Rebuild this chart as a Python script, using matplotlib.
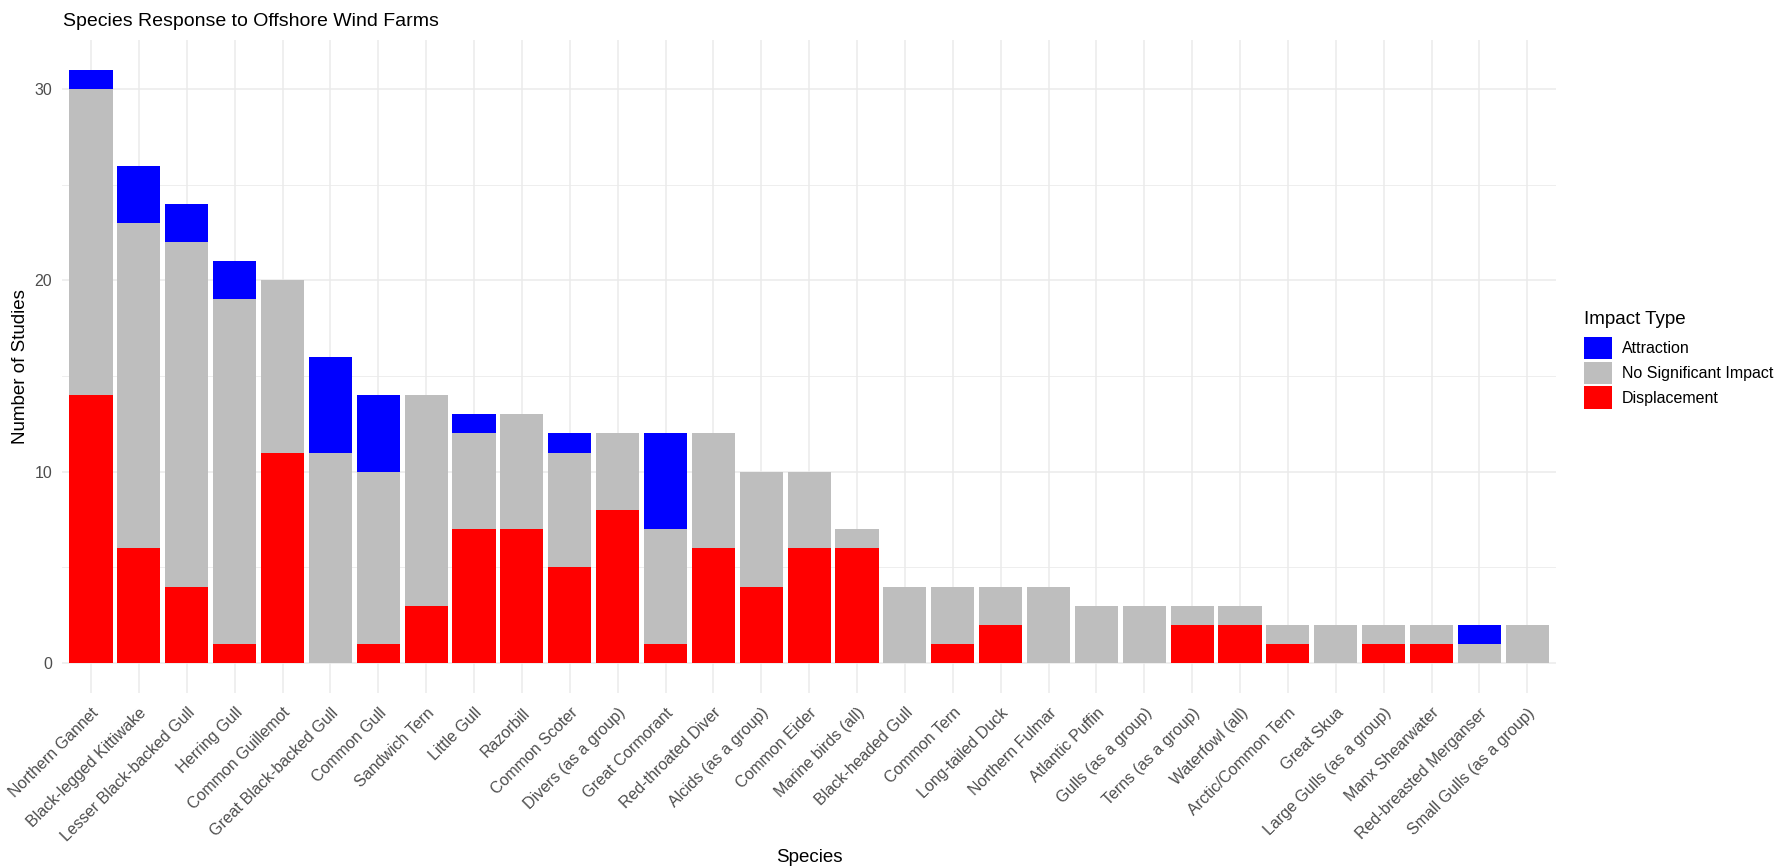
import numpy as np
import matplotlib
matplotlib.use('Agg')
import matplotlib.pyplot as plt
from matplotlib.patches import Patch
from matplotlib.ticker import MultipleLocator

# Stacked counts of studies per species and impact type

species = ['Northern Gannet', 'Black-legged Kittiwake', 'Lesser Black-backed Gull', 'Herring Gull',
           'Common Guillemot', 'Great Black-backed Gull', 'Common Gull', 'Sandwich Tern', 'Little Gull',
           'Razorbill', 'Common Scoter', 'Divers (as a group)', 'Great Cormorant', 'Red-throated Diver',
           'Alcids (as a group)', 'Common Eider', 'Marine birds (all)', 'Black-headed Gull', 'Common Tern',
           'Long-tailed Duck', 'Northern Fulmar', 'Atlantic Puffin', 'Gulls (as a group)', 'Terns (as a group)',
           'Waterfowl (all)', 'Arctic/Common Tern', 'Great Skua', 'Large Gulls (as a group)', 'Manx Shearwater',
           'Red-breasted Merganser', 'Small Gulls (as a group)']

displacement = [14, 6, 4, 1, 11, 0, 1, 3, 7, 7, 5, 8, 1, 6, 4, 6, 6, 0, 1, 2, 0, 0, 0, 2, 2, 1, 0, 1, 1, 0, 0]
no_impact    = [16, 17, 18, 18, 9, 11, 9, 11, 5, 6, 6, 4, 6, 6, 6, 4, 1, 4, 3, 2, 4, 3, 3, 1, 1, 1, 2, 1, 1, 1, 2]
attraction   = [1, 3, 2, 2, 0, 5, 4, 0, 1, 0, 1, 0, 5, 0, 0, 0, 0, 0, 0, 0, 0, 0, 0, 0, 0, 0, 0, 0, 0, 1, 0]

impact_types = ['Attraction', 'No Significant Impact', 'Displacement']
colors = {'Attraction': '#0000FF', 'No Significant Impact': '#BEBEBE', 'Displacement': '#FF0000'}

plt.rcParams['font.family'] = ['Liberation Sans', 'DejaVu Sans']

W, H = 1780, 868
fig = plt.figure(figsize=(W / 100, H / 100), dpi=100)
ax_left, ax_right, ax_top, ax_bot = 62.3, 1556, 40.2, 692.7
ax = fig.add_axes([ax_left / W, 1 - ax_bot / H, (ax_right - ax_left) / W, (ax_bot - ax_top) / H])

x = np.arange(1, len(species) + 1)
d = np.array(displacement)
n = np.array(no_impact)
a = np.array(attraction)

ax.bar(x, d, width=0.9, color=colors['Displacement'], linewidth=0)
ax.bar(x, n, width=0.9, bottom=d, color=colors['No Significant Impact'], linewidth=0)
ax.bar(x, a, width=0.9, bottom=d + n, color=colors['Attraction'], linewidth=0)

total = (d + n + a).max()
ax.set_xlim(0.4, len(species) + 0.6)
ax.set_ylim(-0.05 * total, 1.05 * total)

ax.set_axisbelow(True)
ax.yaxis.set_major_locator(MultipleLocator(10))
ax.yaxis.set_minor_locator(MultipleLocator(5))
ax.grid(which='major', color='#EBEBEB', linewidth=1.1)
ax.grid(which='minor', axis='y', color='#EBEBEB', linewidth=0.6)
for s in ax.spines.values():
    s.set_visible(False)

ax.set_xticks(x)
ax.set_xticklabels(species, rotation=45, ha='right', va='top', rotation_mode='anchor')
ax.tick_params(axis='x', length=0, pad=9, labelsize=11.5, labelcolor='#4D4D4D')
ax.tick_params(axis='y', which='both', length=0, pad=7.4, labelsize=11.5, labelcolor='#4D4D4D')

ax.set_xlabel('Species', fontsize=13.5)
ax.xaxis.label.set_va('center')
ax.xaxis.set_label_coords(0.5, (ax_bot - 858) / (ax_bot - ax_top))
ax.set_ylabel('Number of Studies', fontsize=13.5)
ax.yaxis.label.set_va('center')
ax.yaxis.set_label_coords((21 - ax_left) / (ax_right - ax_left), 0.5)

fig.text(63 / W, 1 - 22 / H, 'Species Response to Offshore Wind Farms', fontsize=14, va='center')

# legend, title drawn separately so it sits where ggplot puts it
fig.text(1584 / W, 1 - 320 / H, 'Impact Type', fontsize=13.5, va='center')
handles = [Patch(facecolor=colors[k], edgecolor='none', label=k) for k in impact_types]
fig.legend(handles=handles, loc='upper left', bbox_to_anchor=(1584 / W, 1 - 337 / H),
           frameon=False, fontsize=11.5, borderpad=0, borderaxespad=0,
           handlelength=1.77, handleheight=1.77, labelspacing=0.15, handletextpad=0.62)

plt.savefig('out.png', dpi=100)
